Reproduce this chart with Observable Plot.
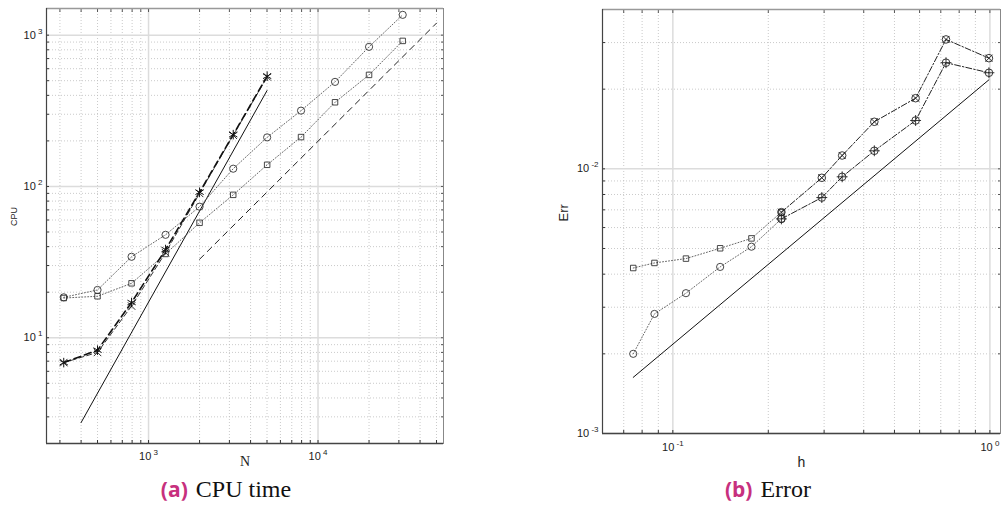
<!DOCTYPE html>
<html>
<head>
<meta charset="utf-8">
<script src="https://cdn.jsdelivr.net/npm/d3@7"></script>
<script src="https://cdn.jsdelivr.net/npm/@observablehq/plot@0.6"></script>
<style>
  html, body { margin: 0; padding: 0; background: #fff; }
  #wrap { position: relative; width: 1001px; height: 514px; overflow: hidden; background: #fff; }
  .panel { position: absolute; top: 0; }
  .cap { position: absolute; top: 477px; text-align: center; font-family: "Liberation Serif", "DejaVu Serif", serif; font-size: 24px; color: #111; line-height: 1; white-space: nowrap; }
  .cap b { font-family: "Open Sans", "DejaVu Sans", sans-serif; font-weight: 700; color: #c7307e; font-size: 21px; margin-right: 8px; }
</style>
</head>
<body>
<div id="wrap">
  <div id="left" class="panel" style="left:0px"></div>
  <div id="right" class="panel" style="left:500px"></div>
  <div class="cap" style="left:126px; width:200px"><b>(a)</b>CPU time</div>
  <div class="cap" style="left:668px; width:200px"><b>(b)</b>Error</div>
</div>
<script>
// ---------- Panel (a): CPU time vs N ----------
const cpuN = [316, 500, 794, 1260, 2000, 3160, 5010, 7940, 12600, 20000, 31600];
const cpuCircle = [18.5, 20.7, 34.3, 47.9, 73.5, 131, 211, 317, 491, 837, 1362];
const cpuSquare = [18.3, 18.8, 22.9, 35.8, 57.5, 88, 139, 212, 360, 546, 916];
const cpuStarN = [316, 500, 794, 1260, 2000, 3160, 5010];
const cpuStar = [6.85, 8.28, 17.1, 38.3, 91.6, 220, 535];
const cpuCross = [6.85, 8.0, 16.2, 36.5, 90, 218, 530];
const cpuRefSolidN = [400, 5000];
const cpuRefSolid = [2.75, 430];
const cpuRefDashN = [2000, 50000];
const cpuRefDash = [33, 1200];
const cpuXTicks = [1000, 10000];
const cpuXTickLabels = ["10^3", "10^4"];
const cpuYTicks = [10, 100, 1000];
const cpuYTickLabels = ["10^1", "10^2", "10^3"];
const cpuXMinor = [300, 400, 500, 600, 700, 800, 900, 2000, 3000, 4000, 5000, 6000, 7000, 8000, 9000, 20000, 30000, 40000, 50000];
const cpuYMinor = [2, 3, 4, 5, 6, 7, 8, 9, 20, 30, 40, 50, 60, 70, 80, 90, 200, 300, 400, 500, 600, 700, 800, 900];
const cpuXDomain = [250, 55000];
const cpuYDomain = [2, 1500];

// ---------- Panel (b): Err vs h ----------
const errH = [0.075, 0.0875, 0.11, 0.141, 0.177, 0.22];
const errSquare = [0.00422, 0.00441, 0.00458, 0.00501, 0.00546, 0.00686];
const errCircle = [0.0020, 0.00283, 0.00339, 0.00426, 0.00508, 0.00647];
const errH2 = [0.22, 0.295, 0.342, 0.432, 0.583, 0.727, 0.993];
const errOtimes = [0.00686, 0.00925, 0.01123, 0.01506, 0.01849, 0.03083, 0.02619];
const errOplus = [0.00647, 0.00779, 0.00933, 0.0117, 0.01523, 0.02518, 0.02307];
const errRefH = [0.075, 0.993];
const errRef = [0.00163, 0.0217];
const errXTicks = [0.1, 1];
const errXTickLabels = ["10^-1", "10^0"];
const errYTicks = [0.001, 0.01];
const errYTickLabels = ["10^-3", "10^-2"];
const errXMinor = [0.07, 0.08, 0.09, 0.2, 0.3, 0.4, 0.5, 0.6, 0.7, 0.8, 0.9];
const errYMinor = [0.002, 0.003, 0.004, 0.005, 0.006, 0.007, 0.008, 0.009, 0.02, 0.03];
const errXDomain = [0.06, 1.08];
const errYDomain = [0.001, 0.04];

const rows = (xs, ys) => xs.map((x, i) => ({x, y: ys[i]}));
const sans = "Liberation Sans, Arial, Helvetica, sans-serif";
const ink = "#222";

function gridAndFrame(xMinor, yMinor, xMajor, yMajor, xDomain, yDomain, xTicks, xLabels, yTicks, yLabels, xPad, yPad) {
  const allX = xMajor.concat(xMinor);
  const allY = yMajor.concat(yMinor);
  return [
    Plot.ruleX(xMinor, {stroke: "#bdbdbd", strokeWidth: 0.8, strokeDasharray: "1,2"}),
    Plot.ruleY(yMinor, {stroke: "#bdbdbd", strokeWidth: 0.8, strokeDasharray: "1,2"}),
    Plot.ruleX(xMajor, {stroke: "#dcdcdc", strokeWidth: 1.5}),
    Plot.ruleY(yMajor, {stroke: "#dcdcdc", strokeWidth: 1.5}),
    // inward ticks on four sides
    Plot.axisX(allX, {anchor: "bottom", tickSize: 3, insetBottom: 3, fill: "none", stroke: "#333", label: null}),
    Plot.axisX(allX, {anchor: "top", tickSize: 3, insetTop: 3, fill: "none", stroke: "#555", label: null}),
    Plot.axisY(allY, {anchor: "left", tickSize: 3, insetLeft: 3, fill: "none", stroke: "#333", label: null}),
    Plot.axisY(allY, {anchor: "right", tickSize: 3, insetRight: 3, fill: "none", stroke: "#555", label: null}),
    // tick labels
    Plot.axisX(xTicks, {anchor: "bottom", tickSize: 0, tickPadding: xPad, tickFormat: d => xLabels[xTicks.indexOf(d)], fontSize: 11, fill: ink, label: null, fontFamily: sans}),
    Plot.axisY(yTicks, {anchor: "left", tickSize: 0, tickPadding: yPad, tickFormat: d => yLabels[yTicks.indexOf(d)], fontSize: 11, fill: ink, label: null, fontFamily: sans}),
    Plot.frame({stroke: "#888", strokeWidth: 1}),
    Plot.ruleY([yDomain[1]], {stroke: "#999", strokeWidth: 1.5}),
    Plot.ruleY([yDomain[0]], {stroke: "#444", strokeWidth: 1.5}),
    Plot.ruleX([xDomain[0]], {stroke: "#444", strokeWidth: 1.2})
  ];
}

// turn "10^3" style tick labels into 10 with a raised exponent
function superscripts(svg) {
  svg.querySelectorAll("text").forEach(t => {
    if (t.querySelector("tspan")) return;
    const s = t.textContent;
    const k = s.indexOf("^");
    if (k < 0) return;
    t.textContent = "";
    const ns = "http://www.w3.org/2000/svg";
    const a = document.createElementNS(ns, "tspan");
    a.textContent = s.slice(0, k);
    const b = document.createElementNS(ns, "tspan");
    b.textContent = " " + s.slice(k + 1);
    b.setAttribute("font-size", "8");
    b.setAttribute("dy", "-5");
    t.appendChild(a);
    t.appendChild(b);
  });
}

const left = Plot.plot({
  width: 500,
  height: 475,
  marginLeft: 46,
  marginRight: 57,
  marginTop: 8,
  marginBottom: 32,
  style: {background: "transparent", fontFamily: sans},
  x: {type: "log", domain: cpuXDomain},
  y: {type: "log", domain: cpuYDomain},
  marks: [
    ...gridAndFrame(cpuXMinor, cpuYMinor, cpuXTicks, cpuYTicks, cpuXDomain, cpuYDomain, cpuXTicks, cpuXTickLabels, cpuYTicks, cpuYTickLabels, 9, 4),
    Plot.line(rows(cpuRefSolidN, cpuRefSolid), {x: "x", y: "y", stroke: "#111", strokeWidth: 1}),
    Plot.line(rows(cpuRefDashN, cpuRefDash), {x: "x", y: "y", stroke: "#222", strokeWidth: 1, strokeDasharray: "6,5"}),
    Plot.line(rows(cpuN, cpuCircle), {x: "x", y: "y", stroke: "#555", strokeWidth: 0.9, strokeDasharray: "1,2"}),
    Plot.line(rows(cpuN, cpuSquare), {x: "x", y: "y", stroke: "#555", strokeWidth: 0.9, strokeDasharray: "1,2"}),
    Plot.line(rows(cpuStarN, cpuCross), {x: "x", y: "y", stroke: "#333", strokeWidth: 1, strokeDasharray: "5,3"}),
    Plot.line(rows(cpuStarN, cpuStar), {x: "x", y: "y", stroke: "#111", strokeWidth: 1.6, strokeDasharray: "7,4"}),
    Plot.dot(rows(cpuN, cpuCircle), {x: "x", y: "y", symbol: "circle", r: 3.6, stroke: "#333", fill: "none", strokeWidth: 0.9}),
    Plot.dot(rows(cpuN, cpuSquare), {x: "x", y: "y", symbol: "square", r: 3.1, stroke: "#333", fill: "none", strokeWidth: 0.9}),
    Plot.dot(rows(cpuStarN, cpuCross), {x: "x", y: "y", symbol: "times", r: 3.5, stroke: "#333", strokeWidth: 1}),
    Plot.dot(rows(cpuStarN, cpuStar), {x: "x", y: "y", symbol: "asterisk", r: 4.5, stroke: "#111", strokeWidth: 1}),
    Plot.text(["CPU"], {frameAnchor: "left", dx: -32, rotate: -90, fontSize: 9, fill: ink, fontFamily: sans}),
    Plot.text(["N"], {frameAnchor: "bottom", dy: 22, fontSize: 14, fill: ink, fontFamily: "Liberation Serif, serif"})
  ]
});
superscripts(left);
document.getElementById("left").appendChild(left);

const right = Plot.plot({
  width: 501,
  height: 475,
  marginLeft: 102,
  marginRight: 1,
  marginTop: 9,
  marginBottom: 42,
  style: {background: "transparent", fontFamily: sans},
  x: {type: "log", domain: errXDomain},
  y: {type: "log", domain: errYDomain},
  marks: [
    ...gridAndFrame(errXMinor, errYMinor, errXTicks, errYTicks, errXDomain, errYDomain, errXTicks, errXTickLabels, errYTicks, errYTickLabels, 10, 4),
    Plot.line(rows(errRefH, errRef), {x: "x", y: "y", stroke: "#111", strokeWidth: 1}),
    Plot.line(rows(errH, errSquare), {x: "x", y: "y", stroke: "#555", strokeWidth: 0.9, strokeDasharray: "1,2"}),
    Plot.line(rows(errH, errCircle), {x: "x", y: "y", stroke: "#555", strokeWidth: 0.9, strokeDasharray: "1,2"}),
    Plot.line(rows(errH2, errOtimes), {x: "x", y: "y", stroke: "#222", strokeWidth: 1, strokeDasharray: "6,2,1.5,2"}),
    Plot.line(rows(errH2, errOplus), {x: "x", y: "y", stroke: "#222", strokeWidth: 1, strokeDasharray: "6,2,1.5,2"}),
    Plot.dot(rows(errH, errSquare), {x: "x", y: "y", symbol: "square", r: 3.1, stroke: "#333", fill: "none", strokeWidth: 0.9}),
    Plot.dot(rows(errH, errCircle), {x: "x", y: "y", symbol: "circle", r: 3.6, stroke: "#333", fill: "none", strokeWidth: 0.9}),
    Plot.dot(rows(errH2, errOtimes), {x: "x", y: "y", symbol: "circle", r: 3.8, stroke: "#222", fill: "none", strokeWidth: 0.9}),
    Plot.dot(rows(errH2, errOtimes), {x: "x", y: "y", symbol: "times", r: 3.3, stroke: "#222", strokeWidth: 0.9}),
    Plot.dot(rows(errH2, errOplus), {x: "x", y: "y", symbol: "circle", r: 3.8, stroke: "#222", fill: "none", strokeWidth: 0.9}),
    Plot.dot(rows(errH2, errOplus), {x: "x", y: "y", symbol: "plus", r: 3.6, stroke: "#222", strokeWidth: 0.9}),
    Plot.text(["Err"], {frameAnchor: "left", dx: -39, rotate: -90, fontSize: 13, fill: ink, fontFamily: sans}),
    Plot.text(["h"], {frameAnchor: "bottom", dy: 33, fontSize: 14, fill: ink, fontFamily: sans})
  ]
});
superscripts(right);
document.getElementById("right").appendChild(right);
</script>
</body>
</html>
